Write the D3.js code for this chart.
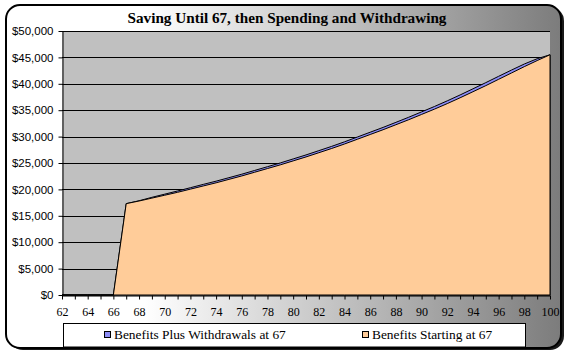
<!DOCTYPE html>
<html>
<head>
<meta charset="utf-8">
<script src="https://cdn.jsdelivr.net/npm/d3@7"></script>
<style>
  html, body { margin: 0; padding: 0; background: #ffffff; }
  svg { display: block; }
  .serif { font-family: "Liberation Serif", "DejaVu Serif", "Times New Roman", serif; }
</style>
</head>
<body>
<svg id="chart" width="568" height="354"></svg>
<script>
const ages = d3.range(62, 101);
// Benefits Starting at 67 (orange), one value per age 62..100
const benefits = [
  0, 0, 0, 0, 0,
  17300, 17800, 18350, 18900, 19450, 20050, 20650, 21250, 21900, 22550,
  23250, 23950, 24650, 25400, 26150, 26950, 27750, 28600, 29500, 30400,
  31300, 32250, 33200, 34200, 35200, 36250, 37350, 38500, 39650, 40850,
  42050, 43250, 44400, 45500
];
// Benefits Plus Withdrawals at 67 (blue)
const withdrawals = [
  0, 0, 0, 0, 0,
  17300, 17850, 18500, 19100, 19700, 20320, 20950, 21560, 22220, 22880,
  23590, 24300, 25010, 25770, 26530, 27340, 28150, 29010, 29920, 30830,
  31740, 32700, 33670, 34680, 35700, 36770, 37890, 39050, 40220, 41420,
  42600, 43750, 44750, 45500
];
const yTicks = [0, 5000, 10000, 15000, 20000, 25000, 30000, 35000, 40000, 45000, 50000];
const xLabels = [62, 64, 66, 68, 70, 72, 74, 76, 78, 80, 82, 84, 86, 88, 90, 92, 94, 96, 98, 100];
const seriesNames = ["Benefits Plus Withdrawals at 67", "Benefits Starting at 67"];
const seriesColors = ["#8c8cf5", "#ffcc99"];
const title = "Saving Until 67, then Spending and Withdrawing";

const svg = d3.select("#chart");

// frame with gradient
const defs = svg.append("defs");
const grad = defs.append("linearGradient").attr("id", "frameGrad")
  .attr("x1", "0").attr("x2", "1").attr("y1", "0").attr("y2", "0");
grad.append("stop").attr("offset", "0%").attr("stop-color", "#ffffff");
grad.append("stop").attr("offset", "25%").attr("stop-color", "#ffffff");
grad.append("stop").attr("offset", "100%").attr("stop-color", "#7c7c7c");

svg.append("rect")
  .attr("x", 9).attr("y", 7).attr("width", 555).attr("height", 343)
  .attr("rx", 14).attr("fill", "#1a1a1a");
svg.append("rect")
  .attr("x", 6).attr("y", 5).attr("width", 555).attr("height", 343)
  .attr("rx", 14).attr("fill", "url(#frameGrad)")
  .attr("stroke", "#000").attr("stroke-width", 2);

svg.append("text")
  .attr("class", "serif")
  .attr("x", 287).attr("y", 23)
  .attr("text-anchor", "middle")
  .style("font-weight", "bold").style("font-size", "15.2px")
  .text(title);

const x = d3.scaleLinear().domain([62, 100]).range([62, 550]);
const y = d3.scaleLinear().domain([0, 50000]).range([295, 31]);

// plot area
svg.append("rect")
  .attr("x", x(62)).attr("y", y(50000))
  .attr("width", x(100) - x(62)).attr("height", y(0) - y(50000))
  .attr("fill", "#c0c0c0");

svg.append("g").selectAll("line")
  .data(yTicks.filter(d => d > 0))
  .join("line")
  .attr("x1", x(62)).attr("x2", x(100))
  .attr("y1", d => Math.round(y(d)) + 0.5).attr("y2", d => Math.round(y(d)) + 0.5)
  .attr("stroke", "#000").attr("stroke-width", 1);

const area = (vals) => d3.area()
  .x((d, i) => x(ages[i]))
  .y0(y(0))
  .y1(d => y(d))(vals);

svg.append("path")
  .attr("d", area(withdrawals))
  .attr("fill", seriesColors[0])
  .attr("stroke", "#000").attr("stroke-width", 1);

svg.append("path")
  .attr("d", area(benefits))
  .attr("fill", seriesColors[1])
  .attr("stroke", "#000").attr("stroke-width", 1);

// axes
const yAxis = svg.append("g")
  .attr("transform", "translate(62.5,0)")
  .call(d3.axisLeft(y).tickValues(yTicks).tickFormat(d3.format("$,")).tickSize(4).tickSizeOuter(0));
yAxis.attr("font-family", null).attr("font-size", null);
yAxis.selectAll("text")
  .style("font-family", "'Liberation Sans', Arial, sans-serif")
  .style("font-size", "11.5px").attr("fill", "#000").attr("dx", -2);
yAxis.selectAll("line, path").attr("stroke", "#000");

const xAxis = svg.append("g")
  .attr("transform", "translate(0,295.5)")
  .call(d3.axisBottom(x).tickValues(ages)
    .tickFormat(d => xLabels.includes(d) ? d : "").tickSize(4).tickSizeOuter(0));
xAxis.attr("font-family", null).attr("font-size", null);
xAxis.selectAll("text")
  .attr("class", "serif")
  .style("font-size", "12px").attr("fill", "#000").attr("dy", "1.1em");
xAxis.selectAll("line, path").attr("stroke", "#000");

// legend
svg.append("rect")
  .attr("x", 63.5).attr("y", 323.5).attr("width", 462).attr("height", 23.5)
  .attr("fill", "#fff").attr("stroke", "#000");

const legendX = [104, 362];
const lg = svg.append("g").selectAll("g")
  .data(seriesNames)
  .join("g")
  .attr("transform", (d, i) => `translate(${legendX[i]},334)`);
lg.append("rect")
  .attr("x", 0.5).attr("y", -2.5).attr("width", 6).attr("height", 6)
  .attr("fill", (d, i) => seriesColors[i]).attr("stroke", "#000");
lg.append("text")
  .attr("class", "serif")
  .attr("x", 10).attr("y", 5)
  .style("font-size", "13.4px")
  .text(d => d);
</script>
</body>
</html>
